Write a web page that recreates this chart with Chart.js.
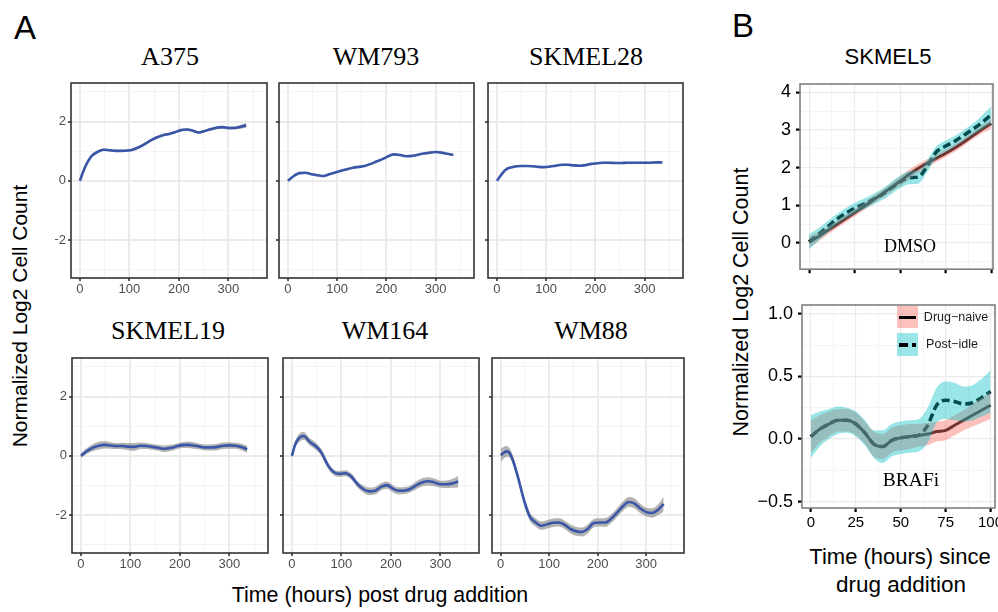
<!DOCTYPE html>
<html><head><meta charset="utf-8">
<script src="https://cdn.jsdelivr.net/npm/chart.js@4.4.1/dist/chart.umd.min.js"></script>
<style>
html,body{margin:0;padding:0;background:#fff}
body{width:998px;height:612px;overflow:hidden;position:relative;font-family:"Liberation Sans",Arial,sans-serif;color:#000}
.t{position:absolute;white-space:nowrap;transform:translate(-50%,-50%);line-height:1}
.serif{font-family:"Liberation Serif","Times New Roman",serif}
.rot{transform:translate(-50%,-50%) rotate(-90deg)}
.key{position:absolute}
</style></head><body>

<div class="t" style="left:25px;top:27px;font-size:33px">A</div>
<div class="t" style="left:743px;top:25px;font-size:33px">B</div>

<div class="t serif" style="left:170px;top:57px;font-size:26px">A375</div>
<div class="t serif" style="left:376px;top:57px;font-size:26px">WM793</div>
<div class="t serif" style="left:586px;top:57px;font-size:26px">SKMEL28</div>
<div class="t serif" style="left:168px;top:331px;font-size:26px">SKMEL19</div>
<div class="t serif" style="left:385px;top:331px;font-size:26px">WM164</div>
<div class="t serif" style="left:591px;top:331px;font-size:26px">WM88</div>
<div class="t" style="left:888px;top:57px;font-size:22px">SKMEL5</div>

<div class="t rot" style="left:19px;top:316px;font-size:21px">Normalized Log2 Cell Count</div>
<div class="t rot" style="left:742px;top:302px;font-size:21.5px">Normalized Log2 Cell Count</div>
<div class="t" style="left:380px;top:596px;font-size:21.4px">Time (hours) post drug addition</div>
<div class="t" style="left:900px;top:557px;font-size:22px">Time (hours) since</div>
<div class="t" style="left:901px;top:585px;font-size:22.5px">drug addition</div>

<script>
// ---------- Panel A data (time in hours) ----------
const timeA = [0,6,12,18,24,36,48,60,72,84,96,108,120,132,144,156,168,180,192,204,216,228,240,252,264,276,288,300,312,324,336];
const a375     = [0,0.28,0.52,0.70,0.84,0.98,1.05,1.03,1.01,1.01,1.02,1.06,1.14,1.25,1.37,1.47,1.54,1.58,1.64,1.71,1.73,1.69,1.63,1.68,1.74,1.79,1.81,1.78,1.78,1.82,1.87];
const a375Band = [0.03,0.03,0.04,0.04,0.04,0.04,0.04,0.04,0.04,0.04,0.04,0.04,0.04,0.04,0.04,0.04,0.04,0.04,0.04,0.04,0.04,0.04,0.04,0.04,0.05,0.05,0.05,0.05,0.05,0.06,0.08];
const wm793     = [0,0.08,0.16,0.22,0.26,0.27,0.22,0.19,0.16,0.22,0.28,0.34,0.39,0.44,0.47,0.50,0.57,0.65,0.73,0.83,0.89,0.87,0.83,0.84,0.88,0.92,0.95,0.97,0.95,0.91,0.87];
const wm793Band = [0.03,0.03,0.03,0.03,0.03,0.03,0.03,0.03,0.03,0.03,0.03,0.03,0.03,0.03,0.03,0.03,0.03,0.03,0.03,0.03,0.03,0.03,0.03,0.03,0.03,0.03,0.03,0.03,0.03,0.03,0.04];
const skmel28     = [0,0.14,0.27,0.37,0.43,0.48,0.50,0.50,0.49,0.47,0.46,0.48,0.51,0.54,0.54,0.52,0.51,0.53,0.57,0.59,0.61,0.61,0.60,0.60,0.61,0.61,0.61,0.61,0.61,0.62,0.62];
const skmel28Band = [0.03,0.03,0.03,0.03,0.03,0.03,0.03,0.03,0.03,0.03,0.03,0.03,0.03,0.03,0.03,0.03,0.03,0.03,0.03,0.03,0.03,0.03,0.03,0.03,0.03,0.03,0.03,0.03,0.03,0.03,0.03];
const skmel19     = [0,0.08,0.16,0.22,0.27,0.34,0.37,0.35,0.33,0.33,0.31,0.30,0.34,0.33,0.30,0.27,0.24,0.26,0.31,0.36,0.37,0.35,0.31,0.28,0.28,0.30,0.34,0.35,0.34,0.30,0.22];
const skmel19Band = [0.08,0.09,0.10,0.11,0.12,0.13,0.12,0.11,0.10,0.11,0.12,0.13,0.11,0.10,0.10,0.10,0.11,0.11,0.10,0.10,0.11,0.11,0.10,0.10,0.10,0.11,0.11,0.11,0.10,0.11,0.12];
const wm164     = [0,0.35,0.55,0.65,0.67,0.47,0.33,0.10,-0.30,-0.55,-0.61,-0.59,-0.70,-0.95,-1.12,-1.20,-1.18,-1.05,-0.99,-1.11,-1.18,-1.17,-1.11,-0.99,-0.89,-0.86,-0.90,-0.96,-0.96,-0.93,-0.87];
const wm164Band = [0.10,0.12,0.13,0.14,0.13,0.12,0.12,0.12,0.11,0.10,0.10,0.10,0.10,0.11,0.12,0.13,0.13,0.12,0.12,0.12,0.12,0.12,0.12,0.13,0.14,0.14,0.13,0.12,0.13,0.15,0.20];
const wm88     = [0.02,0.10,0.15,0.10,-0.10,-0.75,-1.50,-2.05,-2.25,-2.36,-2.31,-2.26,-2.25,-2.33,-2.47,-2.55,-2.57,-2.46,-2.27,-2.25,-2.25,-2.12,-1.92,-1.70,-1.56,-1.61,-1.78,-1.90,-1.93,-1.83,-1.62];
const wm88Band = [0.22,0.20,0.18,0.16,0.15,0.14,0.14,0.14,0.14,0.14,0.14,0.14,0.14,0.14,0.15,0.15,0.15,0.15,0.14,0.14,0.15,0.15,0.15,0.16,0.17,0.17,0.16,0.15,0.16,0.18,0.25];

const ticksAx = [0,100,200,300];
const tickLabelsAx = ['0','100','200','300'];
const minorAx = [50,150,250,350];
const ticksAy = [-2,0,2];
const tickLabelsAy = ['\u22122','0','2'];
const minorAy = [-3,-1,1,3];

// ---------- Panel B data (SKMEL5, time in hours) ----------
const timeB = [0,5,10,15,20,25,30,35,40,45,50,55,60,65,70,75,80,85,90,95,100];
const dmsoNaive     = [0.02,0.16,0.32,0.48,0.64,0.80,0.96,1.13,1.30,1.47,1.64,1.82,1.98,2.12,2.25,2.38,2.52,2.68,2.85,3.02,3.17];
const dmsoNaiveBand = [0.15,0.12,0.11,0.10,0.10,0.10,0.10,0.10,0.10,0.11,0.13,0.13,0.12,0.11,0.10,0.10,0.10,0.10,0.10,0.11,0.13];
const dmsoIdle      = [0.03,0.22,0.42,0.62,0.78,0.92,1.03,1.15,1.28,1.45,1.62,1.73,1.75,2.05,2.42,2.57,2.70,2.86,3.02,3.20,3.40];
const dmsoIdleBand  = [0.20,0.17,0.15,0.14,0.14,0.14,0.14,0.14,0.15,0.16,0.16,0.17,0.17,0.16,0.15,0.15,0.14,0.14,0.15,0.18,0.23];
const brafNaive     = [0.02,0.08,0.12,0.15,0.15,0.12,0.05,-0.04,-0.06,-0.01,0.01,0.02,0.03,0.04,0.06,0.07,0.11,0.15,0.19,0.23,0.27];
const brafNaiveBand = [0.13,0.11,0.10,0.09,0.09,0.09,0.09,0.10,0.10,0.10,0.10,0.10,0.09,0.09,0.08,0.08,0.08,0.08,0.09,0.10,0.11];
const brafIdle      = [0.02,0.08,0.12,0.15,0.15,0.12,0.05,-0.04,-0.06,-0.01,0.01,0.02,0.03,0.11,0.27,0.31,0.30,0.28,0.29,0.33,0.38];
const brafIdleBand  = [0.17,0.14,0.12,0.11,0.10,0.10,0.10,0.11,0.13,0.13,0.13,0.13,0.13,0.14,0.14,0.15,0.15,0.14,0.14,0.15,0.17];

const ticksBx = [0,25,50,75,100];
const tickLabelsBx = ['0','25','50','75','100'];
const minorBx = [12.5,37.5,62.5,87.5];
const ticksBtopY = [0,1,2,3,4];
const tickLabelsBtopY = ['0','1','2','3','4'];
const minorBtopY = [-0.5,0.5,1.5,2.5,3.5];
const ticksBbotY = [-0.5,0,0.5,1.0];
const tickLabelsBbotY = ['\u22120.5','0.0','0.5','1.0'];
const minorBbotY = [-0.25,0.25,0.75];
const seriesLabels = ['Drug\u2212naive','Post\u2212idle'];

// ---------- helpers ----------
const framePlugin = {
  id: 'frame',
  afterDatasetsDraw(chart, args, opts) {
    const {ctx, chartArea: a} = chart;
    ctx.save();
    ctx.strokeStyle = opts.color; ctx.lineWidth = opts.width;
    ctx.strokeRect(a.left, a.top, a.right - a.left, a.bottom - a.top);
    ctx.restore();
  }
};

function pts(xs, ys, band, sign) {
  return xs.map((x, i) => ({x: x, y: ys[i] + (band ? sign * band[i] : 0)}));
}
const NONE = 'rgba(0,0,0,0)';

function axis(o) {
  const all = o.major.concat(o.minor).sort((a, b) => a - b);
  const isMaj = v => o.major.includes(v);
  return {
    type: 'linear', min: o.min, max: o.max,
    afterFit: s => { if (o.horizontal) s.height = o.size; else s.width = o.size; },
    afterBuildTicks: s => { s.ticks = all.map(v => ({value: v})); },
    ticks: {
      display: o.labels, autoSkip: false, maxRotation: 0, padding: o.tickPad,
      color: o.tickColor, font: {family: '"Liberation Sans", Arial, sans-serif', size: o.fontSize},
      callback: v => { const i = o.major.indexOf(v); return i >= 0 ? o.tickLabels[i] : ''; }
    },
    grid: {
      color: c => (c.tick && isMaj(c.tick.value)) ? o.gridMajor : o.gridMinor,
      lineWidth: c => (c.tick && isMaj(c.tick.value)) ? o.gridMajorW : o.gridMinorW,
      drawTicks: true, tickLength: o.tickLen,
      tickColor: c => (c.tick && isMaj(c.tick.value)) ? o.markColor : NONE,
      tickWidth: o.markW
    },
    border: {display: false}
  };
}

function panel(o) {
  const padL = 4, padT = 18, padR = 18, padB = 4;
  const W = o.R - o.L, H = o.B - o.T;
  const cw = W + padL + o.yW + padR, ch = H + padT + padB + o.xH;
  const cv = document.createElement('canvas');
  cv.width = cw; cv.height = ch;
  cv.style.cssText = 'position:absolute;left:' + (o.L - o.yW - padL) + 'px;top:' + (o.T - padT) + 'px;width:' + cw + 'px;height:' + ch + 'px';
  document.body.appendChild(cv);
  new Chart(cv, {
    type: 'line',
    data: {datasets: o.datasets},
    options: {
      responsive: false, animation: false, events: [],
      layout: {padding: {left: padL, top: padT, right: padR, bottom: padB}},
      plugins: {legend: {display: false}, tooltip: {enabled: false},
        frame: {color: o.frameColor, width: o.frameW}},
      scales: {x: o.x, y: o.y}
    },
    plugins: [framePlugin]
  });
}

// ---------- Panel A ----------
const blue = '#3a56a8', grayBand = 'rgba(128,128,128,0.6)';
function dsA(vals, band) {
  return [
    {data: pts(timeA, vals), borderColor: blue, borderWidth: 2.6, pointRadius: 0, cubicInterpolationMode: 'monotone', fill: false},
    {data: pts(timeA, vals, band, -1), borderColor: NONE, borderWidth: 1, pointRadius: 0, cubicInterpolationMode: 'monotone', fill: false},
    {data: pts(timeA, vals, band, 1), borderColor: NONE, borderWidth: 1, pointRadius: 0, cubicInterpolationMode: 'monotone', fill: '-1', backgroundColor: grayBand}
  ];
}
const styleA = {gridMajor: '#ebebeb', gridMinor: '#f3f3f3', gridMajorW: 2, gridMinorW: 1, markColor: '#333', markW: 1.6, tickLen: 3, tickColor: '#4d4d4d', fontSize: 13};
function panelA(L, R, T, B, vals, band, showY) {
  panel({
    L: L, R: R, T: T, B: B, yW: 16, xH: 22, frameColor: '#333', frameW: 1.6,
    x: axis(Object.assign({}, styleA, {horizontal: true, size: 22, min: -18, max: 378, major: ticksAx, minor: minorAx, tickLabels: tickLabelsAx, labels: true, tickPad: 1})),
    y: axis(Object.assign({}, styleA, {horizontal: false, size: 16, min: -3.28, max: 3.3, major: ticksAy, minor: minorAy, tickLabels: tickLabelsAy, labels: showY, tickPad: 2})),
    datasets: dsA(vals, band)
  });
}
panelA(71, 267, 83, 278, a375, a375Band, true);
panelA(279, 474, 83, 278, wm793, wm793Band, false);
panelA(488, 683, 83, 278, skmel28, skmel28Band, false);
panelA(72, 268, 358, 553, skmel19, skmel19Band, true);
panelA(283, 479, 358, 553, wm164, wm164Band, false);
panelA(492, 684, 358, 553, wm88, wm88Band, false);

// ---------- Panel B ----------
const cyanBand = 'rgba(0,191,196,0.4)', redBand = 'rgba(248,118,109,0.45)';
function dsB(naive, naiveBand, idle, idleBand) {
  const base = {pointRadius: 0, cubicInterpolationMode: 'monotone'};
  return [
    Object.assign({data: pts(timeB, idle, idleBand, -1), borderColor: NONE, borderWidth: 1, fill: false}, base),
    Object.assign({data: pts(timeB, idle, idleBand, 1), borderColor: NONE, borderWidth: 1, fill: '-1', backgroundColor: cyanBand}, base),
    Object.assign({data: pts(timeB, naive, naiveBand, -1), borderColor: NONE, borderWidth: 1, fill: false}, base),
    Object.assign({data: pts(timeB, naive, naiveBand, 1), borderColor: NONE, borderWidth: 1, fill: '-1', backgroundColor: redBand}, base),
    Object.assign({label: seriesLabels[1], data: pts(timeB, idle), borderColor: '#000', borderWidth: 3.5, borderDash: [8, 4], fill: false}, base),
    Object.assign({label: seriesLabels[0], data: pts(timeB, naive), borderColor: '#000', borderWidth: 3, fill: false}, base)
  ];
}
const styleB = {gridMajor: '#ebebeb', gridMinor: '#f4f4f4', gridMajorW: 1.2, gridMinorW: 1, markColor: '#000', markW: 2.2, tickLen: 4, tickColor: '#000'};
panel({
  L: 800, R: 993, T: 84, B: 273, yW: 50, xH: 8, frameColor: '#808080', frameW: 1.6,
  x: axis(Object.assign({}, styleB, {horizontal: true, size: 8, min: -5, max: 101, major: ticksBx, minor: minorBx, tickLabels: tickLabelsBx, labels: false, tickPad: 2, fontSize: 15})),
  y: axis(Object.assign({}, styleB, {horizontal: false, size: 50, min: -0.7, max: 4.22, major: ticksBtopY, minor: minorBtopY, tickLabels: tickLabelsBtopY, labels: true, tickPad: 5, fontSize: 18})),
  datasets: dsB(dmsoNaive, dmsoNaiveBand, dmsoIdle, dmsoIdleBand)
});
panel({
  L: 802, R: 995, T: 305, B: 508, yW: 50, xH: 26, frameColor: '#808080', frameW: 1.6,
  x: axis(Object.assign({}, styleB, {horizontal: true, size: 26, min: -5, max: 102.5, major: ticksBx, minor: minorBx, tickLabels: tickLabelsBx, labels: true, tickPad: 2, fontSize: 15})),
  y: axis(Object.assign({}, styleB, {horizontal: false, size: 50, min: -0.55, max: 1.07, major: ticksBbotY, minor: minorBbotY, tickLabels: tickLabelsBbotY, labels: true, tickPad: 5, fontSize: 18})),
  datasets: dsB(brafNaive, brafNaiveBand, brafIdle, brafIdleBand)
});
</script>

<div class="t serif" style="left:910px;top:246px;font-size:18px">DMSO</div>
<div class="t serif" style="left:911px;top:480px;font-size:19.5px">BRAFi</div>

<div class="key" style="left:897px;top:306px;width:21px;height:22px;background:rgba(248,118,109,0.45)"><div style="position:absolute;left:2px;right:2px;top:9.5px;height:3px;background:#000"></div></div>
<div class="key" style="left:897px;top:333px;width:21px;height:23px;background:rgba(0,191,196,0.4)"><div style="position:absolute;left:2px;right:2px;top:10px;height:3.5px;background:repeating-linear-gradient(90deg,#000 0 9px,transparent 9px 13px)"></div></div>
<div class="t" style="left:956px;top:317px;font-size:12.5px;color:#1a1a1a">Drug&#8722;naive</div>
<div class="t" style="left:952px;top:344px;font-size:12.5px;color:#1a1a1a">Post&#8722;idle</div>

</body></html>
